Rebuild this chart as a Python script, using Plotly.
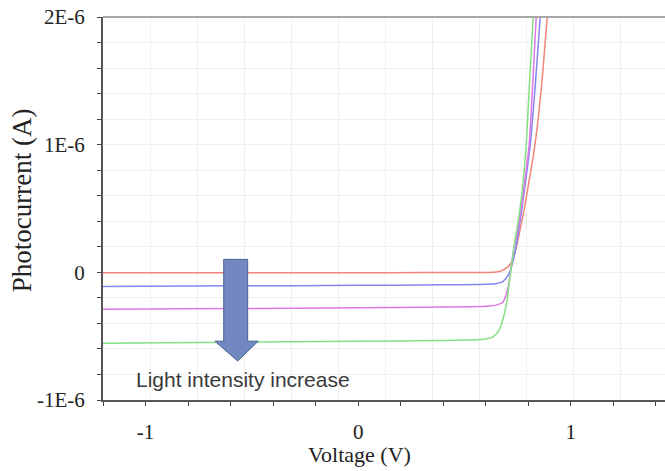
import plotly.graph_objects as go

# Photocurrent vs. voltage sweeps at four light intensities (current in uA)
v_red = [-1.2, -0.8, -0.4, 0.0, 0.3, 0.55, 0.64, 0.668, 0.701, 0.724, 0.738, 0.752, 0.771, 0.783, 0.805, 0.825, 0.845, 0.867, 0.889]
i_red = [-0.004, -0.004, -0.003, -0.003, -0.002, -0.001, 0.0, 0.008, 0.039, 0.086, 0.156, 0.258, 0.414, 0.516, 0.73, 0.93, 1.18, 1.55, 2.0]

v_blue = [-1.2, -0.6, 0.0, 0.4, 0.6, 0.65, 0.682, 0.706, 0.724, 0.74, 0.755, 0.771, 0.79, 0.809, 0.832, 0.856]
i_blue = [-0.11, -0.106, -0.102, -0.098, -0.094, -0.088, -0.07, -0.02, 0.06, 0.18, 0.33, 0.516, 0.75, 1.0, 1.45, 2.0]

v_magenta = [-1.2, -0.6, 0.0, 0.4, 0.6, 0.65, 0.68, 0.695, 0.706, 0.715, 0.729, 0.748, 0.762, 0.782, 0.804, 0.82, 0.837]
i_magenta = [-0.29, -0.284, -0.278, -0.272, -0.266, -0.257, -0.235, -0.18, -0.109, -0.01, 0.156, 0.31, 0.45, 0.70, 1.0, 1.45, 2.0]

v_green = [-1.2, -0.6, 0.0, 0.4, 0.55, 0.60, 0.63, 0.66, 0.682, 0.70, 0.712, 0.724, 0.738, 0.755, 0.77, 0.79, 0.806, 0.823]
i_green = [-0.555, -0.548, -0.54, -0.533, -0.528, -0.522, -0.51, -0.46, -0.36, -0.22, -0.06, 0.09, 0.26, 0.43, 0.62, 1.0, 1.5, 2.0]

y_tick_vals = [-1e-6, 0, 1e-6, 2e-6]
y_tick_text = ["-1E-6", "0", "1E-6", "2E-6"]
x_tick_vals = [-1, 0, 1]
x_tick_text = ["-1", "0", "1"]

series = [
    (v_red, i_red, "#f0857a"),
    (v_blue, i_blue, "#8585f0"),
    (v_magenta, i_magenta, "#dd78e6"),
    (v_green, i_green, "#85e085"),
]

fig = go.Figure()
for v, i, color in series:
    fig.add_trace(go.Scatter(
        x=v, y=[val * 1e-6 for val in i], mode="lines",
        line=dict(color=color, width=1.5, shape="spline", smoothing=0.6),
        showlegend=False, hoverinfo="skip",
    ))

# Empty trace that carries the offset vertical grid axis
fig.add_trace(go.Scatter(x=[], y=[], xaxis="x2", showlegend=False))

x_range = [-1.2, 1.4427]
serif = "Liberation Serif"

fig.update_layout(
    width=665, height=471,
    margin=dict(l=103, r=0, t=17, b=71),
    paper_bgcolor="white", plot_bgcolor="white",
    xaxis=dict(
        range=x_range, tickvals=x_tick_vals, ticktext=x_tick_text,
        showgrid=False, zeroline=False,
        showline=True, linecolor="#555555", linewidth=2,
        ticks="outside", ticklen=4, tickcolor="#444444", tickwidth=1,
        minor=dict(dtick=0.2, tick0=0, ticks="outside", ticklen=4, tickcolor="#444444", showgrid=False),
        tickfont=dict(family=serif, size=21, color="#222222"),
        ticklabelstandoff=8,
    ),
    xaxis2=dict(
        range=x_range, overlaying="x", anchor="y",
        tick0=-0.975, dtick=0.2207, showgrid=True, gridcolor="#efefef", gridwidth=1,
        showticklabels=False, ticks="", showline=False, zeroline=False,
    ),
    yaxis=dict(
        range=[-1e-6, 2e-6], tickvals=y_tick_vals, ticktext=y_tick_text,
        showgrid=True, gridcolor="#efefef", zeroline=False,
        showline=True, linecolor="#555555", linewidth=2,
        ticks="outside", ticklen=4, tickcolor="#444444", tickwidth=1,
        minor=dict(dtick=0.2e-6, tick0=0, ticks="outside", ticklen=4, tickcolor="#444444",
                   showgrid=True, gridcolor="#efefef"),
        tickfont=dict(family=serif, size=21, color="#222222"),
        ticklabelstandoff=8,
    ),
    shapes=[
        # top frame line
        dict(type="line", xref="paper", yref="paper", x0=0, x1=1, y0=1, y1=1,
             line=dict(color="#a8a8a8", width=2)),
        # block arrow indicating rising light intensity
        dict(type="path", xref="x", yref="y",
             path=("M -0.6324 1.016e-7 L -0.5197 1.016e-7 L -0.5197 -5.39e-7 "
                   "L -0.4700 -5.39e-7 L -0.5667 -6.95e-7 L -0.6740 -5.39e-7 "
                   "L -0.6324 -5.39e-7 Z"),
             fillcolor="#7189c0", line=dict(color="#4a6496", width=1)),
    ],
    annotations=[
        dict(text="Voltage (V)", xref="paper", yref="paper", x=0.457, y=-0.1436,
             xanchor="center", yanchor="middle", showarrow=False,
             font=dict(family=serif, size=22, color="#222222")),
        dict(text="Photocurrent (A)", xref="paper", yref="paper", x=-0.144, y=0.522,
             xanchor="center", yanchor="middle", showarrow=False, textangle=-90,
             font=dict(family=serif, size=27, color="#222222")),
        dict(text="Light intensity increase", xref="paper", yref="paper", x=0.249, y=0.0548,
             xanchor="center", yanchor="middle", showarrow=False,
             font=dict(family="Liberation Sans", size=21, color="#3a3a3a")),
    ],
)

fig.write_html("out.html")
